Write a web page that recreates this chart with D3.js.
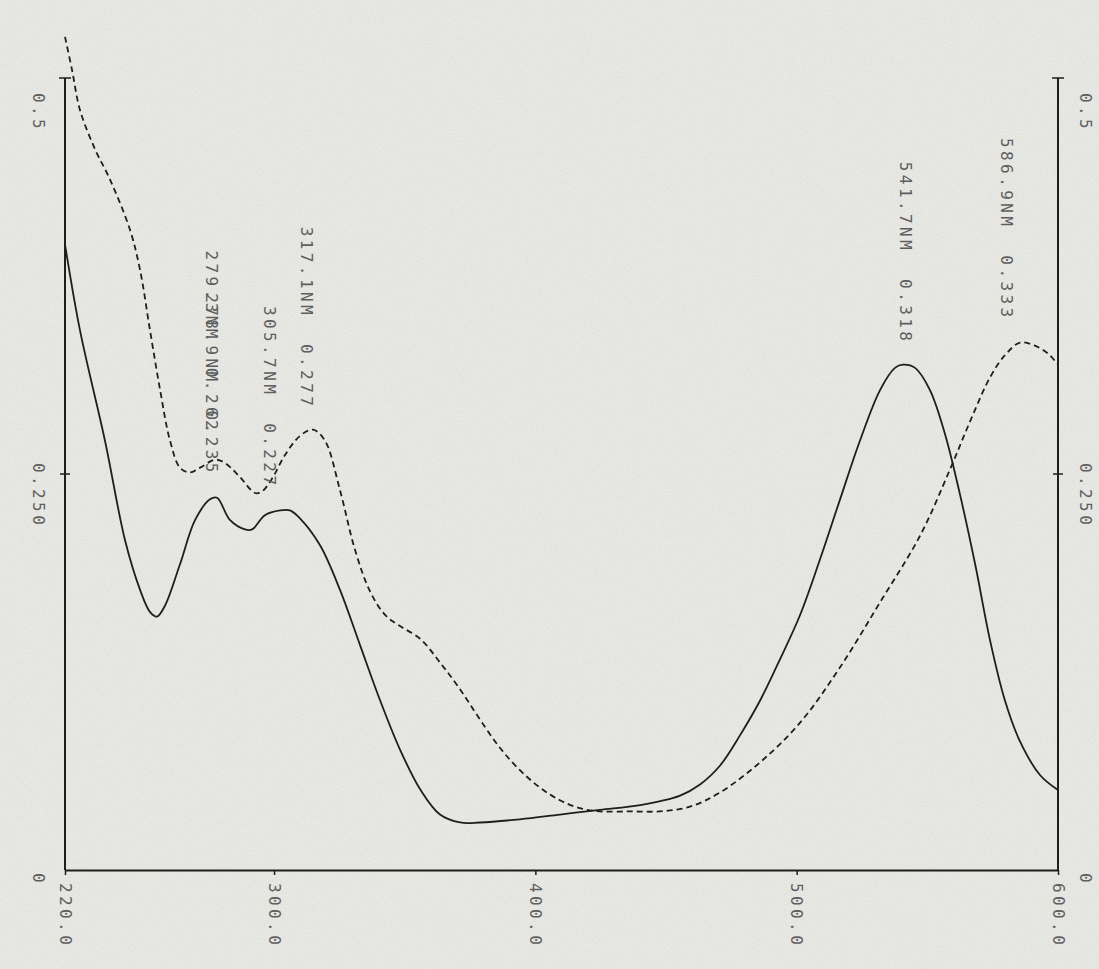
<!DOCTYPE html>
<html>
<head>
<meta charset="utf-8">
<title>Spectre</title>
<script src="https://d3js.org/d3.v7.min.js"></script>
<style>
  body { margin: 0; background: #e8e8e4; }
  svg { display: block; }
  .lbl { font-family: "DejaVu Sans Mono", monospace; font-size: 16px; fill: #5e5e5e; letter-spacing: 3.4px; white-space: pre; }
</style>
</head>
<body>
<script>
// courbe pleine
var solidNm  = [220, 225.7, 235.3, 243.0, 248.7, 252.5, 255.2, 258.3, 264.0, 269.8, 275.5, 278.2, 283.1, 288.9, 291.6, 296.5, 302.3, 306.1, 309.9, 317.6, 325.2, 332.9, 340.6, 348.2, 355.9, 363.5, 371.2, 378.8, 394.1, 409.4, 424.7, 440.1, 455.4, 463.0, 470.7, 478.3, 486.0, 493.6, 501.3, 508.9, 516.6, 524.2, 531.9, 537.6, 540.7, 545.3, 551.0, 556.8, 562.5, 568.3, 574.0, 579.7, 585.5, 593.1, 600];
var solidAbs = [0.395, 0.341, 0.271, 0.208, 0.177, 0.163, 0.160, 0.167, 0.193, 0.221, 0.234, 0.235, 0.221, 0.215, 0.215, 0.224, 0.227, 0.227, 0.222, 0.205, 0.177, 0.142, 0.107, 0.076, 0.051, 0.035, 0.030, 0.030, 0.032, 0.035, 0.038, 0.041, 0.047, 0.054, 0.066, 0.085, 0.107, 0.133, 0.161, 0.196, 0.234, 0.271, 0.303, 0.317, 0.319, 0.317, 0.303, 0.275, 0.237, 0.193, 0.145, 0.107, 0.081, 0.060, 0.0505];
// courbe en tirets
var dashNm  = [220, 222.7, 225.7, 231.5, 237.2, 244.9, 248.7, 252.5, 256.4, 260.2, 264.0, 267.8, 271.7, 277.4, 281.2, 287.0, 292.7, 295.4, 299.2, 304.2, 309.9, 314.9, 319.5, 325.2, 331.0, 336.7, 342.5, 348.2, 355.9, 363.5, 371.2, 378.8, 386.5, 394.1, 401.8, 409.4, 417.1, 424.7, 436.2, 447.7, 459.2, 470.7, 486.0, 501.3, 516.6, 531.9, 547.2, 558.7, 566.3, 574.0, 579.7, 585.5, 591.2, 596.2, 600];
var dashAbs = [0.526, 0.505, 0.480, 0.455, 0.436, 0.404, 0.379, 0.341, 0.303, 0.271, 0.254, 0.251, 0.254, 0.259, 0.257, 0.248, 0.238, 0.239, 0.247, 0.262, 0.274, 0.278, 0.271, 0.240, 0.202, 0.176, 0.161, 0.154, 0.146, 0.131, 0.114, 0.095, 0.077, 0.063, 0.052, 0.044, 0.039, 0.037, 0.037, 0.037, 0.040, 0.049, 0.068, 0.093, 0.128, 0.169, 0.211, 0.253, 0.283, 0.311, 0.325, 0.333, 0.331, 0.326, 0.319];

var xTicks = [220, 300, 400, 500, 600];
var xTickLabels = ["220.0", "300.0", "400.0", "500.0", "600.0"];
var yTicks = [0, 0.25, 0.5];
var yTickLabels = ["0", "0.250", "0.5"];

var peakNm  = [279.3, 278.9, 305.7, 317.1, 541.7, 586.9];
var peakAbs = [0.262, 0.235, 0.227, 0.277, 0.318, 0.333];
var peakLabels = ["279.3NM  0.262", "278.9NM  0.235", "305.7NM  0.227", "317.1NM  0.277", "541.7NM  0.318", "586.9NM  0.333"];

var W = 1099, H = 969;
var svg = d3.select("body").append("svg").attr("width", W).attr("height", H);

// papier
var defs = svg.append("defs");
var f = defs.append("filter").attr("id", "grain").attr("x", 0).attr("y", 0).attr("width", "100%").attr("height", "100%");
f.append("feTurbulence").attr("type", "fractalNoise").attr("baseFrequency", 0.9).attr("numOctaves", 2).attr("seed", 3);
f.append("feColorMatrix").attr("type", "matrix")
  .attr("values", "0 0 0 0 0.45  0 0 0 0 0.45  0 0 0 0 0.43  0 0 0 -1.2 0.75");
svg.append("rect").attr("width", W).attr("height", H).attr("fill", "#e8e8e4");
svg.append("rect").attr("width", W).attr("height", H).attr("filter", "url(#grain)").attr("opacity", 0.3);

var x = d3.scaleLinear().domain([220, 600]).range([65, 1058]);
var y = d3.scaleLinear().domain([0, 0.5]).range([870, 78]);

var ink = "#1e1e1e";

// axe X
svg.append("g")
  .attr("transform", "translate(0," + y(0) + ")")
  .call(d3.axisBottom(x).tickValues(xTicks).tickSize(5).tickSizeOuter(0).tickFormat(""))
  .call(g => g.select(".domain").attr("stroke", ink).attr("stroke-width", 2))
  .call(g => g.selectAll(".tick line").attr("stroke", ink).attr("stroke-width", 1.5));

// axes Y gauche et droit
[x.range()[0], x.range()[1]].forEach(function (ax) {
  svg.append("line").attr("x1", ax).attr("x2", ax).attr("y1", y(0)).attr("y2", y(0.5))
    .attr("stroke", ink).attr("stroke-width", 2);
  svg.append("line").attr("x1", ax - 6).attr("x2", ax + 6).attr("y1", y(0.5)).attr("y2", y(0.5))
    .attr("stroke", ink).attr("stroke-width", 1.5);
  svg.append("line").attr("x1", ax - 5).attr("x2", ax + 5).attr("y1", y(0.25)).attr("y2", y(0.25))
    .attr("stroke", ink).attr("stroke-width", 1.5);
});

// étiquettes
var yOff = [3, -11, 15];
[[38, "l"], [1085, "r"]].forEach(function (p) {
  svg.selectAll(".yl" + p[1]).data(yTicks).enter().append("text")
    .attr("class", "lbl yl" + p[1])
    .attr("transform", (d, i) => "translate(" + p[0] + "," + (y(d) + yOff[i]) + ") rotate(90)")
    .attr("dominant-baseline", "central")
    .text((d, i) => yTickLabels[i]);
});

svg.selectAll(".xl").data(xTicks).enter().append("text")
  .attr("class", "lbl xl")
  .attr("transform", d => "translate(" + x(d) + "," + (y(0) + 13) + ") rotate(90)")
  .attr("dominant-baseline", "central")
  .text((d, i) => xTickLabels[i]);

// courbes
var line = d3.line().x(d => x(d[0])).y(d => y(d[1])).curve(d3.curveCatmullRom);
svg.append("path").datum(d3.zip(solidNm, solidAbs))
  .attr("fill", "none").attr("stroke", ink).attr("stroke-width", 1.8).attr("d", line);
svg.append("path").datum(d3.zip(dashNm, dashAbs))
  .attr("fill", "none").attr("stroke", ink).attr("stroke-width", 1.8)
  .attr("stroke-dasharray", "6,4").attr("d", line);

// pics
var peakDx = [-8, -7, -19, -12, 0, -17];
svg.selectAll(".pk").data(peakNm).enter().append("text")
  .attr("class", "lbl pk")
  .attr("transform", (d, i) => "translate(" + (x(d) + peakDx[i]) + "," + (y(peakAbs[i]) - 22) + ") rotate(90)")
  .attr("text-anchor", "end")
  .attr("dominant-baseline", "central")
  .text((d, i) => peakLabels[i]);
</script>
</body>
</html>
